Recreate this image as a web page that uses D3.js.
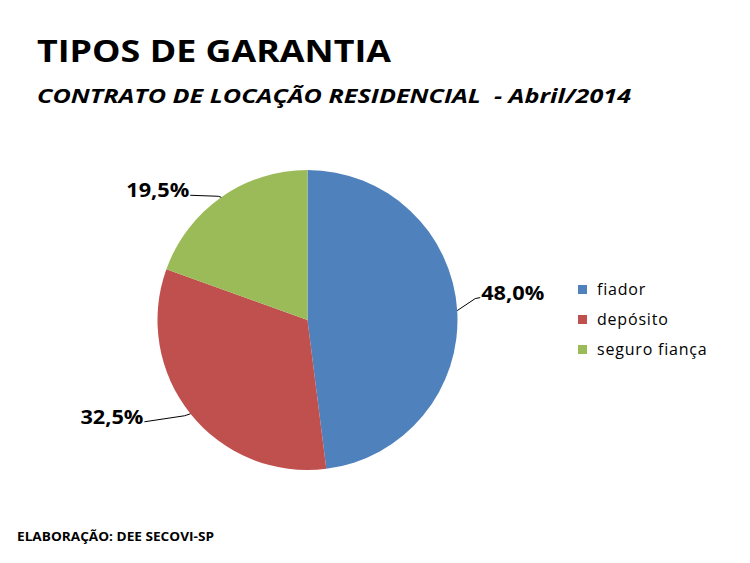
<!DOCTYPE html>
<html>
<head>
<meta charset="utf-8">
<script src="https://cdn.jsdelivr.net/npm/d3@7"></script>
<style>
  body { margin: 0; background: #fff; }
  text { font-family: "Open Sans", "Liberation Sans", sans-serif; white-space: pre; }
</style>
</head>
<body>
<div id="chart"></div>
<script>
// dados
const categories = ["fiador", "depósito", "seguro fiança"];
const values = [48.0, 32.5, 19.5];
const colors = ["#4F81BD", "#C0504D", "#9BBB59"];

const width = 750;
const height = 563;

const svg = d3.select("#chart")
    .append("svg")
    .attr("width", width)
    .attr("height", height);

// Títulos
svg.append("text")
    .attr("x", 37).attr("y", 62)
    .attr("font-size", 31).attr("font-weight", "bold")
    .attr("textLength", 354).attr("lengthAdjust", "spacingAndGlyphs")
    .attr("fill", "#000")
    .text("TIPOS DE GARANTIA");

svg.append("text")
    .attr("x", 37).attr("y", 103)
    .attr("font-size", 20).attr("font-weight", "bold").attr("font-style", "italic")
    .attr("textLength", 594).attr("lengthAdjust", "spacingAndGlyphs")
    .attr("fill", "#000")
    .text("CONTRATO DE LOCAÇÃO RESIDENCIAL  - Abril/2014");

svg.append("text")
    .attr("x", 17).attr("y", 541)
    .attr("font-size", 11.5).attr("font-weight", "bold")
    .attr("textLength", 197).attr("lengthAdjust", "spacingAndGlyphs")
    .attr("fill", "#000")
    .text("ELABORAÇÃO: DEE SECOVI-SP");

// Pizza
const cx = 307.5, cy = 320, radius = 150;
const data = categories.map((c, i) => ({ name: c, value: values[i], color: colors[i] }));

const pie = d3.pie().sort(null).value(d => d.value);
const arc = d3.arc().innerRadius(0).outerRadius(radius);
const arcs = pie(data);

const g = svg.append("g").attr("transform", `translate(${cx},${cy})`);

g.selectAll("path")
    .data(arcs)
    .enter().append("path")
    .attr("d", arc)
    .attr("fill", d => d.data.color);

// rótulos com linhas de chamada
const fmt = v => d3.format(".1f")(v).replace(".", ",") + "%";
// deslocamento do fim da linha (relativo ao ponto da borda)
const leader = [
    { bend: [18, -12], end: [23, -13], anchor: "start" },
    { bend: [-6, 2], end: [-46, 8], anchor: "end" },
    { bend: [-3, -1], end: [-31, -2], anchor: "end" }
];

arcs.forEach((d, i) => {
    const mid = (d.startAngle + d.endAngle) / 2;
    const px = radius * Math.sin(mid);
    const py = -radius * Math.cos(mid);
    const L = leader[i];
    g.append("polyline")
        .attr("points", [[px, py], [px + L.bend[0], py + L.bend[1]], [px + L.end[0], py + L.end[1]]].join(" "))
        .attr("fill", "none")
        .attr("stroke", "#000")
        .attr("stroke-width", 1);
    g.append("text")
        .attr("x", px + L.end[0] + (L.anchor === "start" ? 1 : -1))
        .attr("y", py + L.end[1] + 2)
        .attr("text-anchor", L.anchor)
        .attr("font-size", 19).attr("font-weight", "bold")
        .attr("textLength", 63).attr("lengthAdjust", "spacingAndGlyphs")
        .attr("fill", "#000")
        .text(fmt(d.data.value));
});

// Legenda
const legend = svg.append("g").attr("transform", "translate(578,285)");
const ly = d3.scalePoint().domain(categories).range([0, 60]);

legend.selectAll("rect")
    .data(data)
    .enter().append("rect")
    .attr("x", 0)
    .attr("y", d => ly(d.name))
    .attr("width", 9).attr("height", 9)
    .attr("fill", d => d.color);

legend.selectAll("text")
    .data(data)
    .enter().append("text")
    .attr("x", 19)
    .attr("y", d => ly(d.name) + 10)
    .attr("font-size", 16)
    .attr("letter-spacing", 0.8)
    .attr("fill", "#000")
    .text(d => d.name);
</script>
</body>
</html>
